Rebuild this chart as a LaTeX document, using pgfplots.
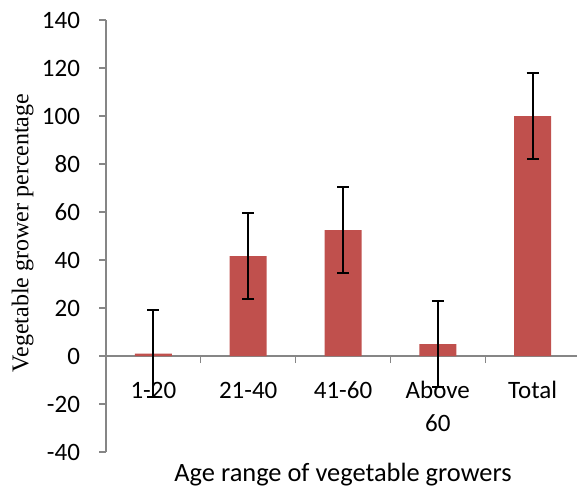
\documentclass[border=0pt]{standalone}
\usepackage{pgfplots}
\pgfplotsset{compat=1.18}
\usepackage{fontspec}
\setmainfont{Carlito}
\newfontfamily\timesfont{Liberation Serif}
\definecolor{barred}{RGB}{192,80,77}
\definecolor{axgray}{RGB}{134,134,134}
\begin{document}
\begin{tikzpicture}
\useasboundingbox (0pt,0pt) rectangle (288.5pt,244.5pt);
\begin{axis}[
  at={(53pt,18.5pt)}, anchor=south west,
  scale only axis, width=237pt, height=216pt,
  xmin=-0.5, xmax=4.5, ymin=-40, ymax=140,
  axis y line=left, axis x line=middle,
  axis line style={draw=axgray, line width=0.6pt, -},
  tick align=outside,
  major tick length=3.5pt, minor tick length=3.5pt,
  ytick={-40,-20,...,140},
  ytick style={draw=axgray, line width=0.6pt},
  xtick={0,1,2,3,4},
  xticklabels={1-20,21-40,41-60,{\begin{tabular}[t]{@{}c@{}}Above\\60\end{tabular}},Total},
  minor xtick={0.5,1.5,2.5,3.5},
  major x tick style={draw=none},
  minor x tick style={draw=axgray, line width=0.6pt},
  tick label style={font=\fontsize{12.5}{16.8}\selectfont, text=black},
  /pgf/number format/assume math mode=true,
  xticklabel style={anchor=base, yshift=-17.5pt},
  yticklabel style={anchor=east, xshift=-6pt},
  every axis x label/.style={at={(axis description cs:0.5,0)}, anchor=base, yshift=-14.85pt, font=\fontsize{13.2}{15}\selectfont},
  every axis y label/.style={at={(axis description cs:-0.176,0.507)}, rotate=90, anchor=center, font=\timesfont\fontsize{12}{14}\selectfont},
  xlabel={Age range of vegetable growers},
  ylabel={Vegetable grower percentage},
]
\addplot[ybar, fill=barred, draw=none, bar width=18.5pt,
  error bars/.cd, y dir=both, y explicit,
  error bar style={black, line width=1pt},
  error mark options={rotate=90, black, mark size=3pt, line width=1pt}]
  coordinates {(0,1) +- (0,18.2) (1,41.6) +- (0,18) (2,52.5) +- (0,18) (3,5) +- (0,18) (4,100) +- (0,18)};
\end{axis}
\end{tikzpicture}
\end{document}
